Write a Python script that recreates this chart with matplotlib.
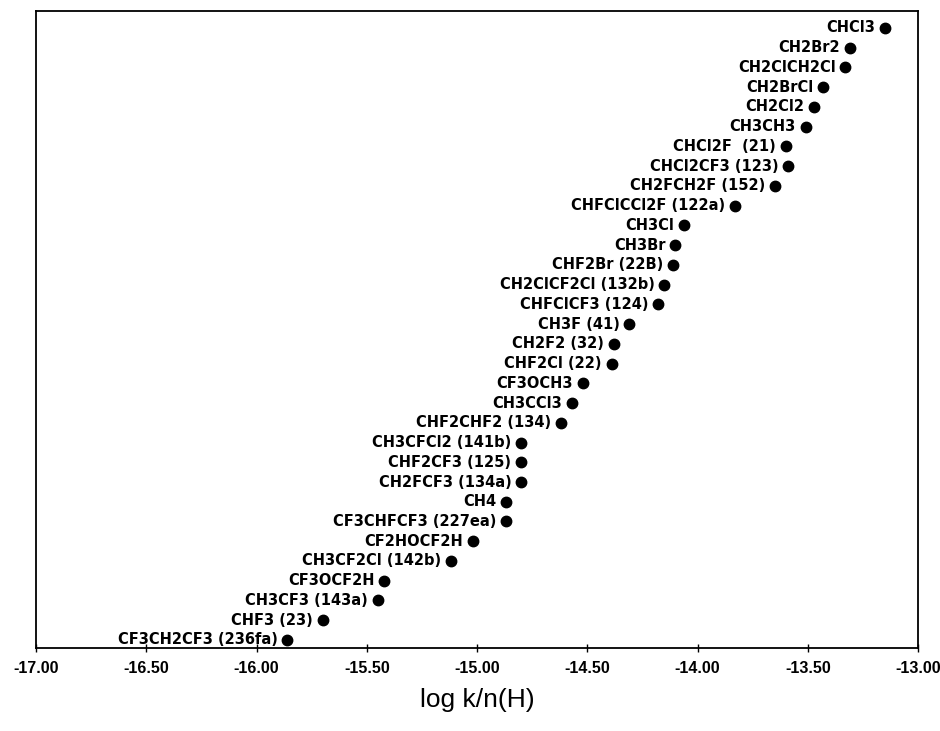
import numpy as np
import matplotlib
matplotlib.use("Agg")
import matplotlib.pyplot as plt
from matplotlib.ticker import FormatStrFormatter, MultipleLocator

plt.rcParams['axes.unicode_minus'] = False

# compounds from slowest (bottom) to fastest (top)
compounds = [
    'CF3CH2CF3 (236fa)', 'CHF3 (23)', 'CH3CF3 (143a)', 'CF3OCF2H',
    'CH3CF2Cl (142b)', 'CF2HOCF2H', 'CF3CHFCF3 (227ea)', 'CH4',
    'CH2FCF3 (134a)', 'CHF2CF3 (125)', 'CH3CFCl2 (141b)', 'CHF2CHF2 (134)',
    'CH3CCl3', 'CF3OCH3', 'CHF2Cl (22)', 'CH2F2 (32)',
    'CH3F (41)', 'CHFClCF3 (124)', 'CH2ClCF2Cl (132b)', 'CHF2Br (22B)',
    'CH3Br', 'CH3Cl', 'CHFClCCl2F (122a)', 'CH2FCH2F (152)',
    'CHCl2CF3 (123)', 'CHCl2F  (21)', 'CH3CH3', 'CH2Cl2',
    'CH2BrCl', 'CH2ClCH2Cl', 'CH2Br2', 'CHCl3',
]
log_k_nh = [
    -15.86, -15.70, -15.45, -15.42,
    -15.12, -15.02, -14.87, -14.87,
    -14.80, -14.80, -14.80, -14.62,
    -14.57, -14.52, -14.39, -14.38,
    -14.31, -14.18, -14.15, -14.11,
    -14.10, -14.06, -13.83, -13.65,
    -13.59, -13.60, -13.51, -13.47,
    -13.43, -13.33, -13.31, -13.15,
]

fig = plt.figure(figsize=(9.4, 7.31), dpi=100)
ax = fig.add_axes([0.0383, 0.1135, 0.9383, 0.8715])

pos = np.arange(len(compounds))
ax.plot(log_k_nh, pos, 'o', color='black', markersize=7.5, linestyle='none')

for name, x, y in zip(compounds, log_k_nh, pos):
    ax.annotate(name, (x, y), xytext=(-7, 0), textcoords='offset points',
                ha='right', va='center', fontsize=10.5, fontweight='bold',
                family='DejaVu Sans')

ax.set_xlim(-17, -13)
ax.set_ylim(-0.41, len(compounds) - 0.14)
ax.xaxis.set_major_locator(MultipleLocator(0.5))
ax.xaxis.set_major_formatter(FormatStrFormatter('%.2f'))
ax.set_yticks([])
ax.tick_params(axis='x', direction='inout', length=6, width=1, pad=6,
               labelsize=11.5)
for lbl in ax.get_xticklabels():
    lbl.set_fontweight('bold')
    lbl.set_family('Liberation Sans')

for sp in ax.spines.values():
    sp.set_linewidth(1.3)

ax.set_xlabel('log k/n(H)', fontsize=19, family='Liberation Sans', labelpad=9)

fig.savefig('out.png', dpi=100)
